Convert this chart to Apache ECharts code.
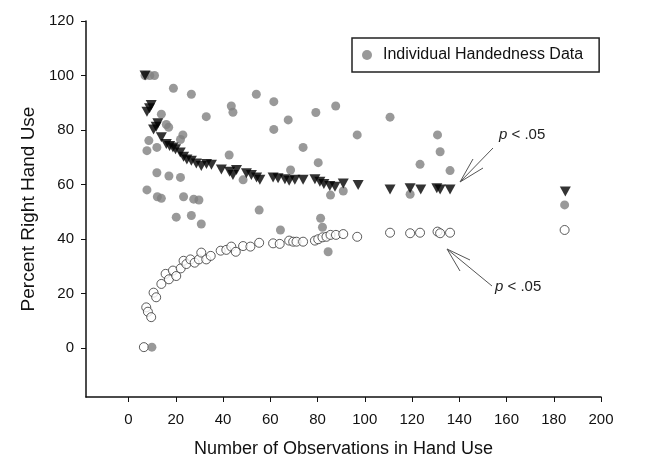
<!DOCTYPE html>
<html>
<head>
<meta charset="utf-8">
<script src="https://cdn.jsdelivr.net/npm/echarts@6/dist/echarts.min.js"></script>
<style>
html,body{margin:0;padding:0;background:#fff;}
#chart{width:650px;height:456px;}
</style>
</head>
<body>
<div id="chart"></div>
<script>
var xTicks=[0,20,40,60,80,100,120,140,160,180,200];
var yTicks=[0,20,40,60,80,100,120];

// gray dots : one per individual
var individualData=[
    [7,100],[9,100],[11,100],[19,95.3],[26.6,93.1],[13.9,85.8],[32.9,84.9],[16,82],[17,81],
    [23,78.2],[22,76.5],[8.6,76.1],[7.8,72.4],[12,73.6],[12,64.3],[17.1,63.1],[22,62.6],
    [7.8,58],[12.2,55.5],[13.9,54.9],[23.3,55.5],[27.6,54.6],[29.8,54.3],[20.2,48],[26.6,48.6],
    [30.8,45.5],[9.9,0.3],[54.1,93.1],[43.5,88.8],[44.2,86.5],[61.5,90.4],[67.6,83.7],[61.5,80.2],
    [79.3,86.4],[87.7,88.8],[96.8,78.2],[73.9,73.6],[42.6,70.8],[80.3,68],[68.6,65.3],[48.5,61.7],
    [85.5,56.1],[90.9,57.6],[55.3,50.6],[81.3,47.6],[82.1,44.3],[64.3,43.3],[84.5,35.3],
    [110.7,84.7],[130.8,78.2],[131.9,72],[123.4,67.4],[136.1,65.1],[119.2,56.4],[184.6,52.5]
];
// black triangles : upper p<.05 bound
var upperBound=[
    [7,100],[7.8,86.7],[8.9,88],[9.6,89.2],[10.6,80.2],[11.7,81.2],[12.4,82.5],[13.9,77.3],
    [16,74.9],[17.4,74.1],[18.8,73.6],[19.9,72.9],[21.9,71.7],[23.3,70.2],[24.7,69.2],[26.6,68.7],
    [28.7,67.7],[30.8,66.8],[33,67.5],[35.1,67.2],[39.3,65.5],[42.8,64.7],[44.2,63.5],[45.7,65.3],
    [49.9,64.1],[52,63.5],[54.2,62.6],[55.6,61.7],[61.2,62.6],[63.3,62.3],[66.2,61.9],[68,61.4],
    [70.4,61.7],[73.9,61.7],[78.9,61.9],[81,61],[82.7,60.2],[85.2,59.4],[87.4,59.2],[90.9,60.4],
    [97.2,59.8],[110.7,58.2],[119.2,58.6],[123.7,58.2],[130.5,58.6],[131.9,58.2],[136.1,58.2],[184.9,57.4]
];
// open circles : lower p<.05 bound
var lowerBound=[
    [6.5,0.3],[7.5,14.9],[8.2,13.3],[9.6,11.3],[10.6,20.3],[11.7,18.6],[13.9,23.5],[15.7,27.2],
    [17.1,25.2],[18.8,28.4],[20.2,26.4],[22.1,29.2],[23.3,32],[24.5,30.8],[26.2,32.5],[28,31.3],
    [29.8,32.5],[30.8,35],[32.9,32.5],[34.8,33.8],[39,35.7],[41.4,36],[43.5,37.2],[45.4,35.3],
    [48.5,37.4],[51.6,37.2],[55.3,38.6],[61.2,38.4],[64,38.2],[68,39.4],[69.7,39],[71.1,39],
    [73.9,39],[78.9,39.4],[80.3,39.9],[82.1,40.6],[83.8,40.8],[85.5,41.5],[87.8,41.5],[90.9,41.8],
    [96.8,40.8],[110.7,42.3],[119.2,42.1],[123.4,42.3],[130.8,42.7],[131.9,42.1],[136.1,42.3],[184.6,43.3]
];

var font='"Liberation Sans", Arial, sans-serif';
var myChart=echarts.init(document.getElementById('chart'));

function arrow(tip,tail,b1,b2){                                     //annotation arrow
    return [
        {type:'polyline',shape:{points:[tail,tip]},style:{stroke:'#555',lineWidth:1,fill:null}},
        {type:'polyline',shape:{points:[b1,tip,b2]},style:{stroke:'#555',lineWidth:1,fill:null}}
    ];
}
function pText(x,y){
    return {
        type:'text',x:x,y:y,
        style:{
            text:'{i|p} < .05',
            fill:'#222',
            verticalAlign:'middle',
            rich:{i:{fontStyle:'italic',fontSize:15,fontFamily:font,fill:'#222'}},
            font:'15px '+font
        }
    };
}

var option={
    backgroundColor:'#fff',
    animation:false,
    grid:{left:86,top:21,right:49,bottom:59,containLabel:false,outerBoundsMode:'none'},
    legend:{
        left:352,top:38,
        data:['Individual Handedness Data'],
        icon:'circle',
        itemWidth:10,itemHeight:10,
        padding:[9,16,9,10],
        borderColor:'#222',borderWidth:1.5,
        textStyle:{fontFamily:font,fontSize:16,color:'#111',padding:[0,0,0,6]}
    },
    xAxis:{
        type:'value',min:-18,max:200,
        name:'Number of Observations in Hand Use',
        nameLocation:'middle',nameGap:43,
        nameTextStyle:{fontFamily:font,fontSize:18,color:'#111'},
        splitLine:{show:false},
        axisLine:{onZero:false,lineStyle:{color:'#111',width:1.5}},
        axisTick:{length:5,lineStyle:{color:'#111'},customValues:xTicks},
        axisLabel:{margin:15,fontFamily:font,fontSize:15,color:'#111',customValues:xTicks}
    },
    yAxis:{
        type:'value',min:-18,max:120,
        name:'Percent Right Hand Use',
        nameLocation:'middle',nameGap:46,
        nameTextStyle:{fontFamily:font,fontSize:19,color:'#111'},
        splitLine:{show:false},
        axisLine:{show:true,onZero:false,lineStyle:{color:'#111',width:1.5}},
        axisTick:{show:true,length:5,lineStyle:{color:'#111'},customValues:yTicks},
        axisLabel:{margin:12,fontFamily:font,fontSize:15,color:'#111',customValues:yTicks}
    },
    series:[
        {
            name:'Lower bound',type:'scatter',data:lowerBound,
            symbol:'circle',symbolSize:9,
            itemStyle:{color:'#fff',borderColor:'#333',borderWidth:1}
        },
        {
            name:'Individual Handedness Data',type:'scatter',data:individualData,
            symbol:'circle',symbolSize:9,
            itemStyle:{color:'#808080'}
        },
        {
            name:'Upper bound',type:'scatter',data:upperBound,
            symbol:'triangle',symbolRotate:180,symbolSize:[11,10],
            itemStyle:{color:'#000'}
        }
    ],
    graphic:[].concat(
        arrow([460,182],[493,148],[473,159],[483,168]),
        arrow([447,249],[492,286],[470,260],[460,271]),
        [pText(499,135),pText(495,287)]
    )
};
myChart.setOption(option);
</script>
</body>
</html>
